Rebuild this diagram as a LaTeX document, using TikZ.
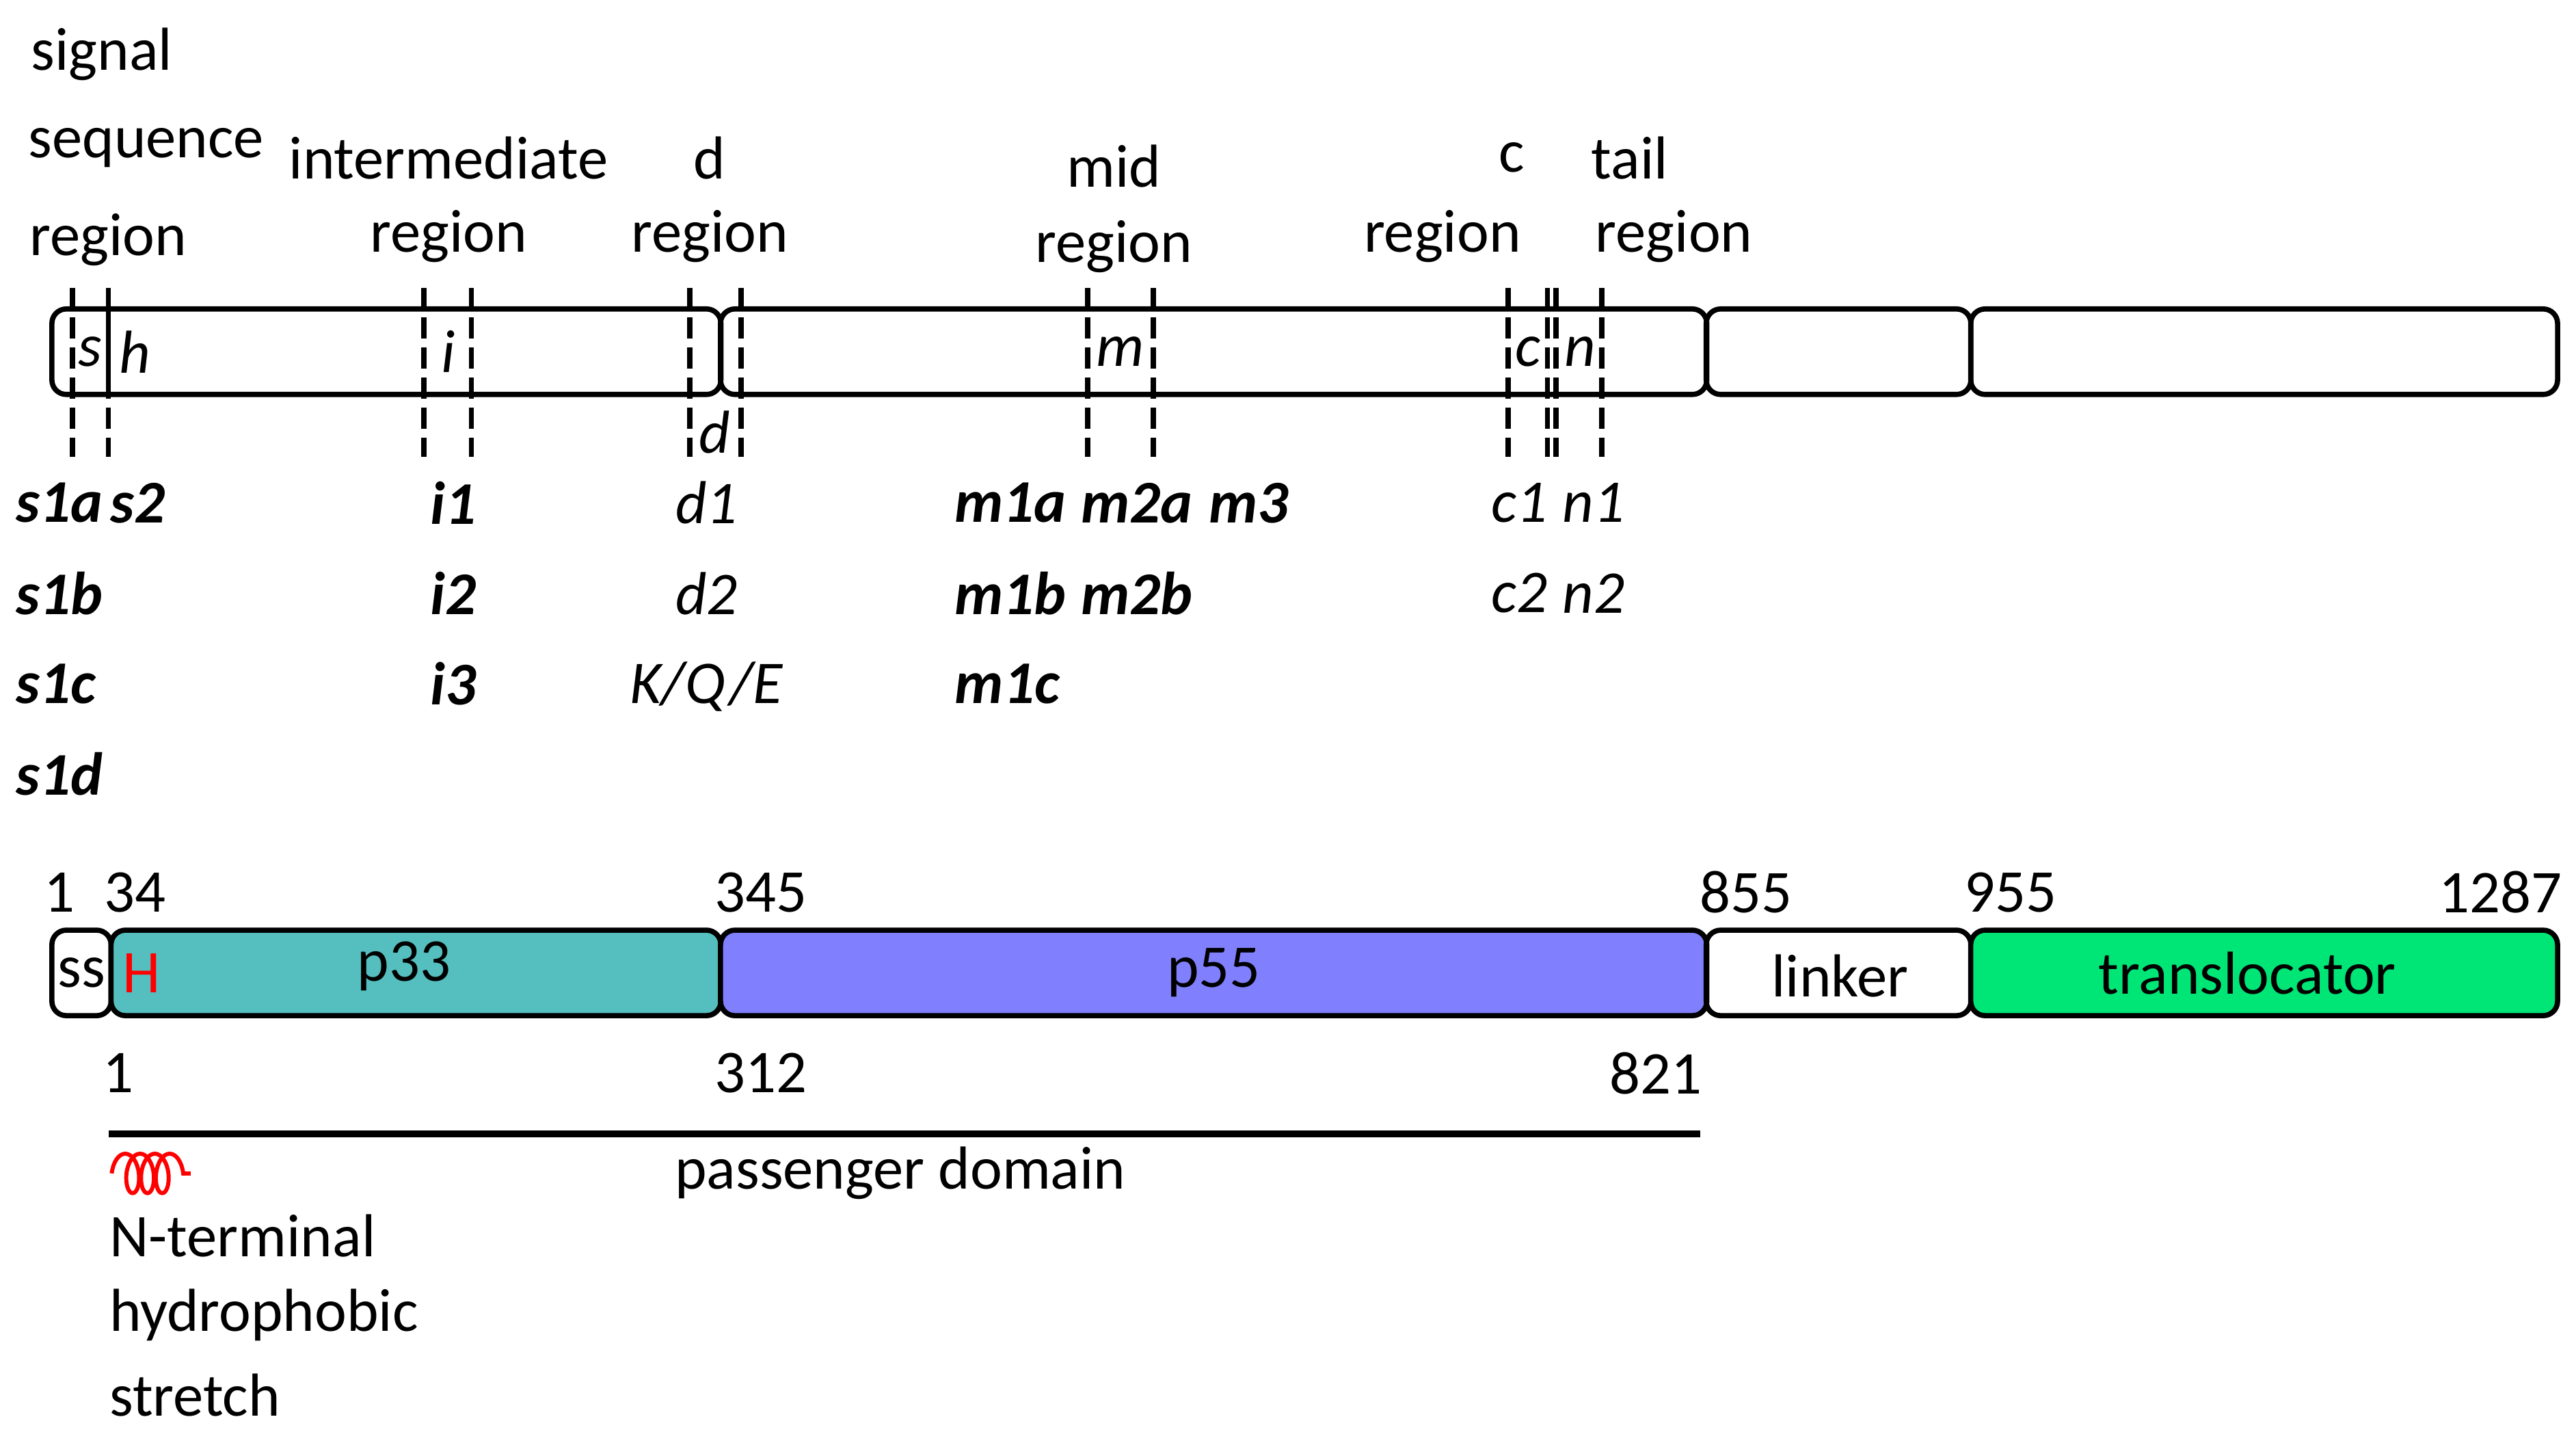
\documentclass[tikz,border=0pt]{standalone}
\usepackage{fontspec}
\setmainfont{Carlito}
\usetikzlibrary{decorations.pathmorphing}
\definecolor{tealp}{HTML}{55BFBF}
\definecolor{bluep}{HTML}{8080FF}
\definecolor{greenp}{HTML}{00E676}
\tikzset{
  txt/.style={inner sep=0pt, font=\fontsize{10.5}{12}\selectfont},
  al/.style={txt, font=\fontsize{10.5}{12}\selectfont\bfseries\itshape},
  ai/.style={txt, font=\fontsize{10.5}{12}\selectfont\itshape},
  seg/.style={draw, line width=0.9pt, rounded corners=2.5pt, inner sep=0pt, minimum height=0.52cm, anchor=west},
  cut/.style={line width=0.9pt, dash pattern=on 3.6pt off 1.6pt}
}
\begin{document}
\begin{tikzpicture}[x=0.01cm,y=-0.01cm]
  \useasboundingbox (0,0) rectangle (1568,878);

  % top bar
  \node[seg, minimum width=4.07cm] (ta) at (30,214) {};
  \node[seg, minimum width=6.00cm] (tb) at (437,214) {};
  \node[seg, minimum width=1.61cm] (tc) at (1037,214) {};
  \node[seg, minimum width=3.57cm] (td) at (1198,214) {};
  \draw[line width=0.9pt] (66,188) -- (66,240);

  % dashed cuts
  \foreach \x in {44,66,258,287,420,451,662,702,918,942,947,975}
    \draw[cut] (\x,175) -- (\x,278);

  % segment letters
  \node[ai] (ls) at (55,214) {s};
  \node[ai] (lh) at (82,214) {h};
  \node[ai] (li) at (273,214) {i};
  \node[ai] (lm) at (682,214) {m};
  \node[ai] (lc) at (930,214) {c};
  \node[ai] (ln) at (962,214) {n};
  \node[ai, fill=white] (ld) at (435,263) {d};

  % region names
  \node[txt] (sig1) at (62,33) {signal};
  \node[txt] (sig2) at (89,90) {sequence};
  \node[txt] (sig3) at (66,146) {region};
  \node[txt] (int1) at (273,96) {intermediate};
  \node[txt] (int2) at (273,144) {region};
  \node[txt] (dr1) at (432,96) {d};
  \node[txt] (dr2) at (432,144) {region};
  \node[txt] (mid1) at (678,101) {mid};
  \node[txt] (mid2) at (678,150) {region};
  \node[txt] (cr1) at (920,96) {c};
  \node[txt] (cr2) at (878,144) {region};
  \node[txt] (tl1) at (992,96) {tail};
  \node[txt] (tl2) at (1019,144) {region};

  % alleles
  \node[al] (s1a) at (36,306) {s1a};
  \node[al] (s2) at (84,306) {s2};
  \node[al] (s1b) at (36,361) {s1b};
  \node[al] (s1c) at (34,416) {s1c};
  \node[al] (s1d) at (36,471) {s1d};
  \node[al] (i1) at (276,306) {i1};
  \node[al] (i2) at (276,361) {i2};
  \node[al] (i3) at (276,416) {i3};
  \node[ai] (d1) at (430,306) {d1};
  \node[ai] (d2) at (430,361) {d2};
  \node[ai] (kqe) at (430,418) {K/Q/E};
  \node[al] (m1a) at (615,306) {m1a};
  \node[al] (m1b) at (615,361) {m1b};
  \node[al] (m1c) at (613,416) {m1c};
  \node[al] (m2a) at (692,306) {m2a};
  \node[al] (m2b) at (692,361) {m2b};
  \node[al] (m3) at (760,306) {m3};
  \node[ai] (c1) at (925,306) {c1};
  \node[ai] (c2) at (925,361) {c2};
  \node[ai] (n1) at (970,306) {n1};
  \node[ai] (n2) at (970,361) {n2};

  % bottom bar
  \node[seg, minimum width=0.36cm] (ss) at (30,592) {};
  \node[txt] at (ss) {ss};
  \node[seg, fill=tealp, minimum width=3.71cm] (p33) at (66,592) {};
  \node[txt] at (246,588) {p33};
  \node[txt, text=red] (H) at (86,592) {H};
  \node[seg, fill=bluep, minimum width=6.00cm] (p55) at (437,592) {};
  \node[txt] at (p55) {p55};
  \node[seg, minimum width=1.61cm] (lk) at (1037,592) {};
  \node[txt] at (1120,594) {linker};
  \node[seg, fill=greenp, minimum width=3.57cm] (tr) at (1198,592) {};
  \node[txt] at (1368,592) {translocator};

  % positions
  \node[txt] (n1a) at (36,543) {1};
  \node[txt] (n34) at (82,543) {34};
  \node[txt] (n345) at (463,543) {345};
  \node[txt] (n855) at (1063,543) {855};
  \node[txt] (n955) at (1224,543) {955};
  \node[txt] (n1287) at (1522,543) {1287};
  \node[txt] (p1) at (72,653) {1};
  \node[txt] (p312) at (463,653) {312};
  \node[txt] (p821) at (1008,653) {821};

  % passenger domain
  \coordinate (pa) at (66,690);
  \coordinate (pb) at (1035,690);
  \draw[line width=1.2pt] (pa) -- (pb);
  \node[txt] (pd) at (548,714) {passenger domain};
  \coordinate (ca) at (68,714);
  \coordinate (cb) at (116,714);
  \draw[red, line width=0.7pt, decorate, decoration={coil, amplitude=0.12cm, segment length=0.09cm}] (ca) -- (cb);
  \node[txt, anchor=west] (nt1) at (66,752) {N-terminal};
  \node[txt, anchor=west] (nt2) at (66,800) {hydrophobic};
  \node[txt, anchor=west] (nt3) at (66,849) {stretch};
\end{tikzpicture}
\end{document}
